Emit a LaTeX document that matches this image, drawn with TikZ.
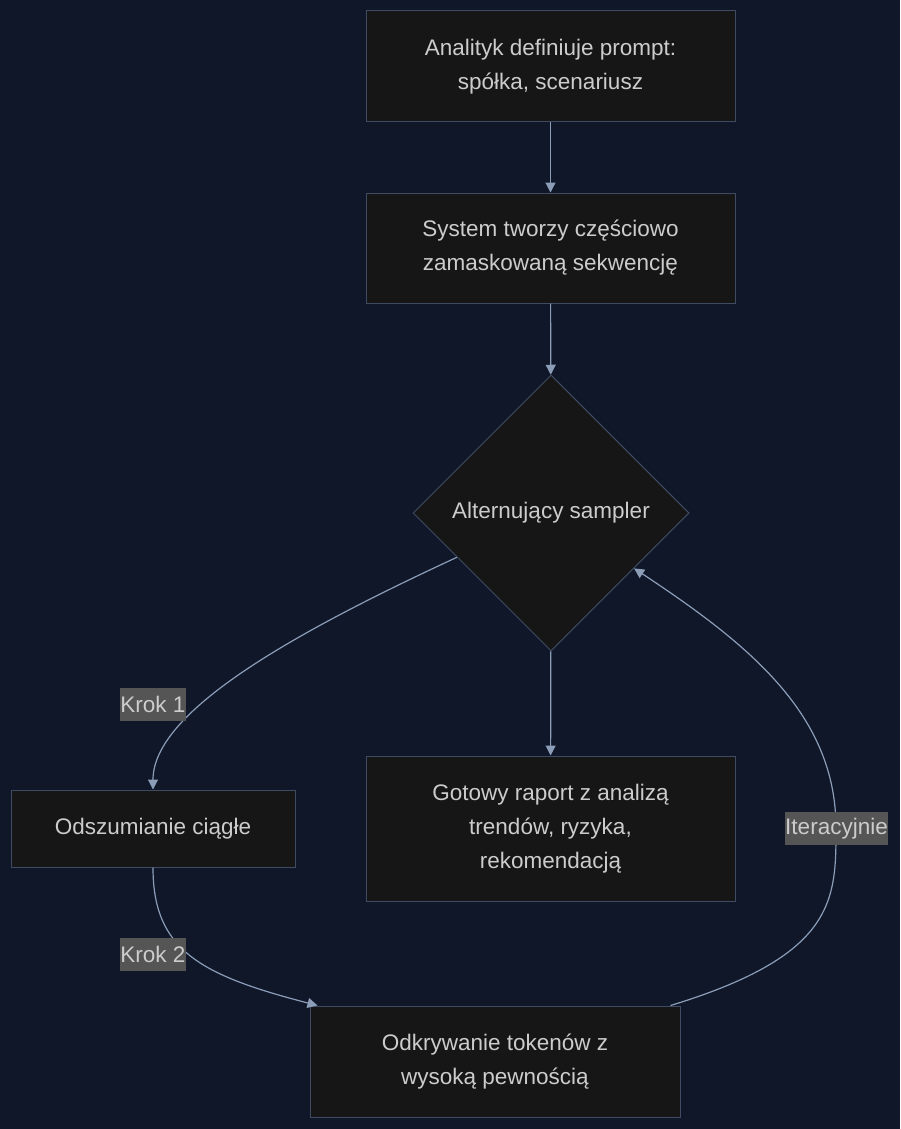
\documentclass[tikz,border=0pt]{standalone}
\usepackage{fontspec}
\setmainfont{Liberation Sans}
\usetikzlibrary{shapes.geometric,arrows.meta,calc}
\definecolor{bgcol}{HTML}{0F1729}
\definecolor{nodefill}{HTML}{161616}
\definecolor{nodeline}{HTML}{3E4B63}
\definecolor{edgecol}{HTML}{8C9DB8}
\definecolor{txtcol}{HTML}{CCCCCC}
\definecolor{lblbg}{HTML}{555555}
\begin{document}
\begin{tikzpicture}[x=1pt,y=-1pt,
  every node/.style={font=\fontsize{22.5}{34}\selectfont, text=txtcol},
  box/.style={draw=nodeline, fill=nodefill, line width=1pt, align=center, inner sep=0pt},
  dia/.style={diamond, draw=nodeline, fill=nodefill, line width=1pt, align=center, inner sep=0pt, minimum width=276pt, minimum height=276pt},
  lbl/.style={fill=lblbg, inner xsep=0pt, inner ysep=0pt, minimum height=33pt},
  edge/.style={draw=edgecol, line width=1.2pt, -{Triangle[length=10pt,width=10pt]}},
  plain/.style={draw=edgecol, line width=1.2pt}]
\fill[bgcol] (0,0) rectangle (900,1129);
\useasboundingbox (0,0) rectangle (900,1129);

\node[box, minimum width=369pt, minimum height=111pt] (A) at (550.5,66.5) {Analityk definiuje prompt:\\spółka, scenariusz};
\node[box, minimum width=369pt, minimum height=110pt] (B) at (550.5,248) {System tworzy częściowo\\zamaskowaną sekwencję};
\node[dia] (C) at (551,513) {Alternujący sampler};
\node[box, minimum width=284pt, minimum height=77pt] (D) at (153,828.5) {Odszumianie ciągłe};
\node[box, minimum width=369pt, minimum height=145pt] (E) at (550.5,828.5) {Gotowy raport z analizą\\trendów, ryzyka,\\rekomendacją};
\node[box, minimum width=370pt, minimum height=111pt] (F) at (495,1061.5) {Odkrywanie tokenów z\\wysoką pewnością};

\draw[edge] (A) -- (B);
\draw[edge] (B) -- (C);
\draw[edge] (C) -- (E);

\coordinate (c1) at ($(C.west)!0.32!(C.south)$);
\draw[edge] (c1) .. controls (300,630) and (153,710) .. (D.north);
\coordinate (f1) at ($(F.north west)+(8,0)$);
\draw[edge] (D.south) .. controls (153,950) and (200,975) .. (f1);
\coordinate (f2) at ($(F.north east)+(-10,0)$);
\coordinate (c2) at ($(C.east)!0.4!(C.south)$);
\coordinate (m) at (836,828);
\draw[edge] (f2) .. controls (836,955) and (836,900) .. (m) .. controls (836,715) and (750,645) .. (c2);

\node[lbl] (L1) at (153,704) {Krok 1};
\node[lbl] (L2) at (153,954) {Krok 2};
\node[lbl] (L3) at (836.5,828.5) {Iteracyjnie};
\end{tikzpicture}
\end{document}
